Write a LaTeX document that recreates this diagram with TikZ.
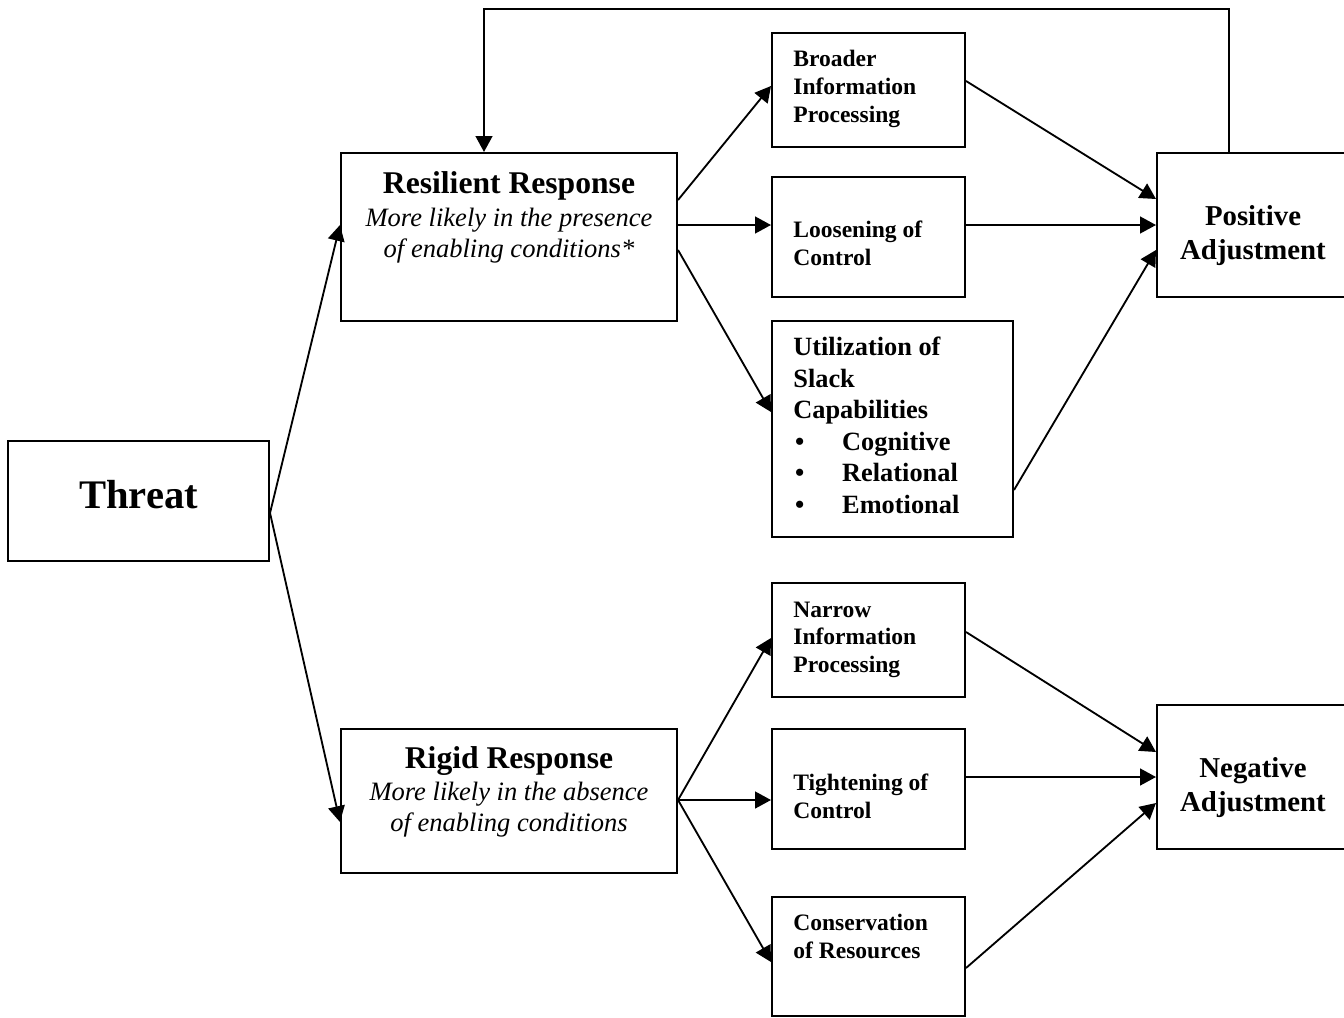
\documentclass[tikz,border=0pt]{standalone}
\usepackage{fontspec}
\setmainfont{Liberation Serif}
\usetikzlibrary{arrows.meta,fit}
\tikzset{
  box/.style={draw, line width=1.15pt, inner sep=0pt, rectangle},
  arr/.style={-{Triangle[length=9pt,width=9.5pt]}, line width=1.05pt},
  txt/.style={inner sep=0pt, font=\bfseries},
  smalltxt/.style={inner sep=0pt, align=left, anchor=base west, font=\bfseries\fontsize{13.4pt}{15.8pt}\selectfont},
  titletxt/.style={inner sep=0pt, anchor=base, font=\bfseries\fontsize{18pt}{20pt}\selectfont},
  ittxt/.style={inner sep=0pt, anchor=base, align=center, font=\itshape\fontsize{15.1pt}{17.5pt}\selectfont},
  adjtxt/.style={inner sep=0pt, anchor=base, align=center, font=\bfseries\fontsize{16.4pt}{19.3pt}\selectfont},
}
\begin{document}
\begin{tikzpicture}[x=0.02cm, y=-0.02cm]
\useasboundingbox (0,0) rectangle (1344,1017);
\clip (0,0) rectangle (1344,1017);
% boxes
\node[box, fit={(8,441)(269,561)}] (thr) {};
\node[box, fit={(341,153)(677,321)}] (res) {};
\node[box, fit={(341,729)(677,873)}] (rig) {};
\node[box, fit={(772,33)(965,147)}] (bro) {};
\node[box, fit={(772,177)(965,297)}] (loo) {};
\node[box, fit={(772,321)(1013,537)}] (uti) {};
\node[box, fit={(772,583)(965,697)}] (nar) {};
\node[box, fit={(772,729)(965,849)}] (tig) {};
\node[box, fit={(772,897)(965,1016)}] (con) {};
\node[box, fit={(1157,153)(1360,297)}] (pos) {};
\node[box, fit={(1157,705)(1360,849)}] (neg) {};
% texts (multi-line nodes: base = baseline of last line)
\node[txt, anchor=base, font=\bfseries\fontsize{23.1pt}{26pt}\selectfont] (thrt) at (138.5,508) {Threat};
\node[titletxt] (rest) at (509,193) {Resilient Response};
\node[ittxt] (resi) at (509,257) {More likely in the presence\\of enabling conditions*};
\node[titletxt] (rigt) at (509,768) {Rigid Response};
\node[ittxt] (rigi) at (509,831) {More likely in the absence\\of enabling conditions};
\node[smalltxt] (brot) at (793,122) {Broader\\Information\\Processing};
\node[smalltxt] (loot) at (793,265) {Loosening of\\Control};
\node[smalltxt, font=\bfseries\fontsize{15pt}{17.9pt}\selectfont] (utit) at (793,513)
  {Utilization of\\Slack\\Capabilities\\\makebox[27.8pt][l]{\hspace{1pt}•}Cognitive\\\makebox[27.8pt][l]{\hspace{1pt}•}Relational\\\makebox[27.8pt][l]{\hspace{1pt}•}Emotional};
\node[smalltxt, font=\bfseries\fontsize{13.4pt}{15.6pt}\selectfont] (nart) at (793,672) {Narrow\\Information\\Processing};
\node[smalltxt] (tigt) at (793,818) {Tightening of\\Control};
\node[smalltxt] (cont) at (793,958) {Conservation\\of Resources};
\node[adjtxt] (post) at (1253,259) {Positive\\Adjustment};
\node[adjtxt] (negt) at (1253,811) {Negative\\Adjustment};
% connectors
\draw[arr] (thr.east |- 0,513) -- (res.west |- 0,225);
\draw[arr] (thr.east |- 0,513) -- (rig.west |- 0,822);
\draw[arr] (res.east |- 0,200) -- (bro.west |- 0,86);
\draw[arr] (res.east |- 0,225) -- (loo.west |- 0,225);
\draw[arr] (res.east |- 0,250) -- (uti.west |- 0,412);
\draw[arr] (bro.east |- 0,81) -- (pos.west |- 0,199);
\draw[arr] (loo.east |- 0,225) -- (pos.west |- 0,225);
\draw[arr] (uti.east |- 0,490) -- (pos.west |- 0,250);
\coordinate (fbr) at (1229,9);
\coordinate (fbl) at (484,9);
\draw[arr] (pos.north -| fbr) -- (fbr) -- (fbl) -- (res.north -| fbl);
\draw[arr] (rig.east |- 0,800) -- (nar.west |- 0,638);
\draw[arr] (rig.east |- 0,800) -- (tig.west |- 0,800);
\draw[arr] (rig.east |- 0,800) -- (con.west |- 0,962);
\draw[arr] (nar.east |- 0,632) -- (neg.west |- 0,752);
\draw[arr] (tig.east |- 0,777) -- (neg.west |- 0,777);
\draw[arr] (con.east |- 0,968) -- (neg.west |- 0,803);
\end{tikzpicture}
\end{document}
